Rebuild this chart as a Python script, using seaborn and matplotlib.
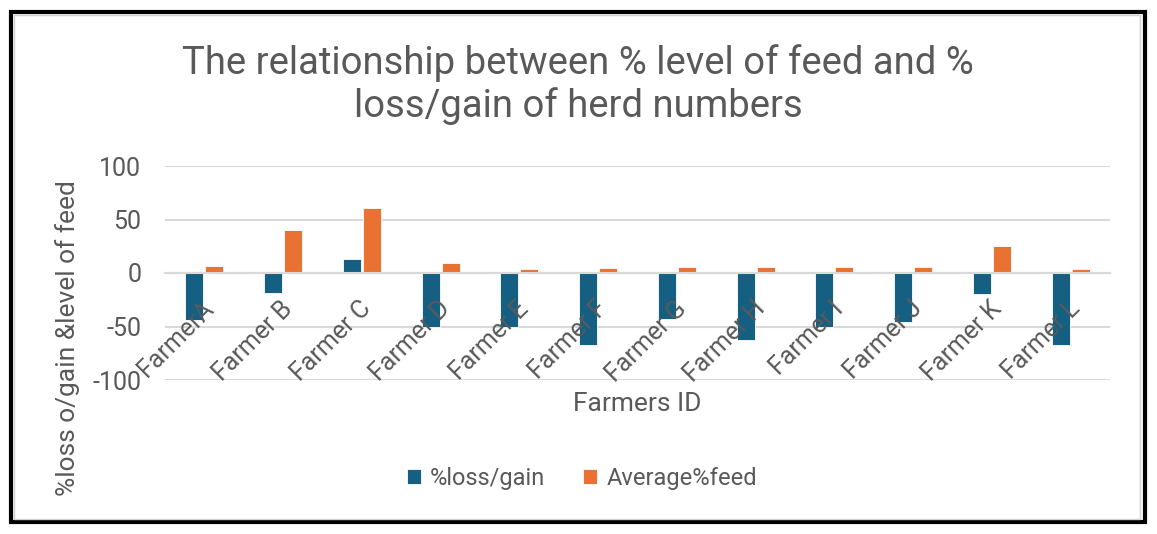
import matplotlib
matplotlib.use("Agg")
import matplotlib.pyplot as plt
import seaborn as sns
import pandas as pd
from matplotlib.patches import Rectangle

farmers = ["FarmerA", "Farmer B", "Farmer C", "Farmer D", "Farmer E", "Farmer F",
           "Farmer G", "Farmer H", "Farmer I", "Farmer J", "Farmer K", "Farmer L"]
loss_gain = [-44, -19, 13, -50, -50, -67, -43, -63, -50, -46, -20, -67]
avg_feed = [7, 40, 61, 9, 4, 5, 6, 6, 6, 6, 25, 3.5]
series_names = ["%loss/gain", "Average%feed"]
yticks = [-100, -50, 0, 50, 100]

df = pd.DataFrame({
    "Farmer": farmers * 2,
    "Series": [series_names[0]] * len(farmers) + [series_names[1]] * len(farmers),
    "Value": loss_gain + avg_feed,
})

sns.set_theme(style="white")
plt.rcParams["font.family"] = ["Roboto", "DejaVu Sans"]
gray = "#595959"
grid = "#D9D9D9"

fig = plt.figure(figsize=(11.57, 5.34), dpi=100)
ax = fig.add_axes([165 / 1157, 1 - 380 / 534, (1110 - 165) / 1157, (380 - 166) / 534])

sns.barplot(data=df, x="Farmer", y="Value", hue="Series", order=farmers,
            hue_order=series_names, palette=["#156082", "#E97132"], saturation=1,
            width=0.51, gap=0.1, edgecolor="white", linewidth=0.6,
            ax=ax, legend=True)

ax.set_ylim(-100, 100)
ax.set_xlim(-0.5, len(farmers) - 0.5)
ax.set_yticks(yticks)
ax.set_yticklabels([str(t) for t in yticks], color=gray, fontsize=18)
ax.tick_params(axis="y", length=0, pad=17)
ax.yaxis.grid(True, color=grid, linewidth=1.5)
ax.set_axisbelow(True)
for s in ["top", "right", "left"]:
    ax.spines[s].set_visible(False)
ax.spines["bottom"].set_position(("data", 0))
ax.spines["bottom"].set_color(grid)
ax.spines["bottom"].set_linewidth(1.5)
ax.set_xticks(range(len(farmers)))
ax.set_xticklabels([])
ax.tick_params(axis="x", length=0)
for i, name in enumerate(farmers):
    ax.annotate(name, xy=(i, 0), xytext=(-2, -17), textcoords="offset points",
                rotation=45, ha="right", va="top", rotation_mode="anchor",
                color=gray, fontsize=18, zorder=10, annotation_clip=False)
ax.set_xlabel("")
ax.set_ylabel("")

leg = ax.legend(loc="center", bbox_to_anchor=(582 / 1157, 1 - 478 / 534),
                bbox_transform=fig.transFigure, ncol=2, frameon=False,
                fontsize=17, handlelength=0.6, handleheight=0.6,
                columnspacing=1.6, handletextpad=0.4)
for t in leg.get_texts():
    t.set_color(gray)

fig.text(578 / 1157, 1 - 63 / 534, "The relationship between % level of feed and %",
         ha="center", va="center", fontsize=27.5, color=gray)
fig.text(578 / 1157, 1 - 106 / 534, "loss/gain of herd numbers",
         ha="center", va="center", fontsize=27.5, color=gray)
fig.text(637 / 1157, 1 - 404 / 534, "Farmers ID", ha="center", va="center",
         fontsize=19, color=gray)
fig.text(68 / 1157, 1 - 338 / 534, "%loss o/gain &level of feed", ha="center",
         va="center", rotation=90, fontsize=19, color=gray)

# border
fig.patches.append(Rectangle((11 / 1157, 1 - 522 / 534), 1134 / 1157, 510 / 534,
                             transform=fig.transFigure, fill=False,
                             edgecolor="black", linewidth=3))
fig.patches.append(Rectangle((14 / 1157, 1 - 519 / 534), 1126 / 1157, 504 / 534,
                             transform=fig.transFigure, fill=False,
                             edgecolor="#D0D0D0", linewidth=1))

fig.savefig("out.png", dpi=100, facecolor="white")
